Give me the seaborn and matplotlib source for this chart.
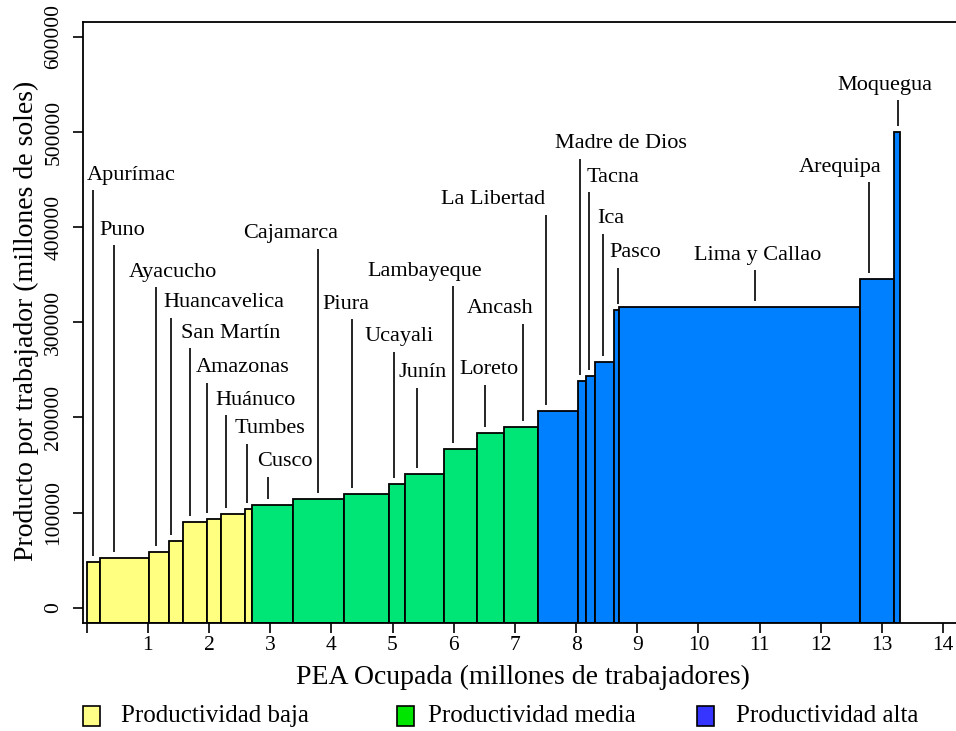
import numpy as np
import pandas as pd
import seaborn as sns
import matplotlib.pyplot as plt
from matplotlib.patches import Rectangle

# Regiones ordenadas por productividad
regiones = ["Apurímac", "Puno", "Ayacucho", "Huancavelica", "San Martín", "Amazonas",
            "Huánuco", "Tumbes", "Cusco", "Cajamarca", "Piura", "Ucayali", "Junín",
            "Lambayeque", "Loreto", "Ancash", "La Libertad", "Madre de Dios", "Tacna",
            "Ica", "Pasco", "Lima y Callao", "Arequipa", "Moquegua"]

# PEA ocupada (millones de trabajadores) = ancho de cada barra
pea = [0.217, 0.807, 0.327, 0.219, 0.392, 0.229, 0.397, 0.120, 0.660, 0.839,
       0.741, 0.251, 0.648, 0.539, 0.437, 0.551, 0.659, 0.126, 0.147, 0.316,
       0.086, 3.936, 0.556, 0.098]

# Producto por trabajador = alto de cada barra
producto = [47700, 51900, 58500, 70100, 90000, 93500, 98400, 103700, 108200, 113900,
            119700, 129900, 140100, 166400, 183800, 189800, 206300, 238100, 244100, 258100,
            312700, 315900, 346000, 500000]

grupo = ["baja"] * 8 + ["media"] * 8 + ["alta"] * 8

grupos = ["baja", "media", "alta"]
leyenda = ["Productividad baja", "Productividad media", "Productividad alta"]

x_ticks = list(range(0, 15))
x_ticklabels = [""] + [str(i) for i in range(1, 15)]
y_ticks = [0, 100000, 200000, 300000, 400000, 500000, 600000]

# Posicion de las etiquetas (x, y) y de la linea guia (x), en unidades de datos
etiqueta_x = [0.736, 0.585, 1.403, 2.245, 2.359, 2.547, 2.760, 2.997, 3.242, 3.335,
              4.231, 5.106, 5.494, 5.531, 6.570, 6.753, 6.635, 8.725, 8.605, 8.570,
              8.968, 10.963, 12.320, 13.043]
etiqueta_y = [454500, 396700, 352900, 320400, 288600, 252500, 218200, 188400, 153400, 393300,
              319000, 284700, 246800, 353700, 250400, 314500, 428800, 487800, 452700, 409000,
              372900, 370500, 463200, 549000]
linea_x = [0.108, 0.446, 1.128, 1.378, 1.689, 1.972, 2.278, 2.616, 2.969, 3.774,
           4.338, 5.020, 5.396, 5.984, 6.513, 7.139, 7.510, 8.066, 8.218, 8.437,
           8.692, 10.927, 12.796, 13.260]

colores_barra = {"baja": "#FFFF80", "media": "#00E676", "alta": "#0080FF"}
colores_leyenda = {"baja": "#FFFF88", "media": "#00E600", "alta": "#3535FF"}

df = pd.DataFrame({"region": regiones, "pea": pea, "producto": producto, "grupo": grupo})
df["inicio"] = df["pea"].cumsum() - df["pea"]

sns.set_theme(style="ticks")
plt.rcParams["font.family"] = ["Liberation Serif", "DejaVu Serif"]

fig = plt.figure(figsize=(9.56, 7.31), dpi=100)
W, H = 956, 731
ax_left, ax_top, ax_bottom = 82.7, 21.7, 623.0
ax = fig.add_axes([ax_left / W, (H - ax_bottom) / H, (W - ax_left) / W, (ax_bottom - ax_top) / H])

y_min, y_max = -16000, 616000
ax.set_xlim(-0.065, 14.21)
ax.set_ylim(y_min, y_max)
por_px = (y_max - y_min) / (ax_bottom - ax_top)

ax.bar(df["inicio"], df["producto"] - y_min, width=df["pea"], bottom=y_min, align="edge",
       color=[colores_barra[g] for g in df["grupo"]], edgecolor="black", linewidth=1.3,
       zorder=2)

for i, fila in df.iterrows():
    ax.text(etiqueta_x[i], etiqueta_y[i], fila["region"], ha="center", va="center",
            fontsize=16, color="black", zorder=3)
    ax.vlines(linea_x[i], fila["producto"] + 6 * por_px, etiqueta_y[i] - 15 * por_px,
              color="black", linewidth=1.2, zorder=3)

ax.set_xticks(x_ticks)
ax.set_xticklabels(x_ticklabels)
ax.set_yticks(y_ticks)
ax.set_yticklabels([str(v) for v in y_ticks], rotation=90, va="center")
ax.tick_params(axis="both", direction="out", length=7, width=1.2, color="black",
               labelsize=15.5, labelcolor="black")
ax.tick_params(axis="x", pad=2)
ax.tick_params(axis="y", pad=7)

for lado in ["left", "bottom", "top"]:
    ax.spines[lado].set_color("black")
    ax.spines[lado].set_linewidth(1.3)
ax.spines["right"].set_visible(False)

ax.set_xlabel("PEA Ocupada (millones de trabajadores)", fontsize=20, color="black")
ax.xaxis.set_label_coords(0.5036, -0.0898)
ax.xaxis.label.set_va("center")
ax.set_ylabel("Producto por trabajador (millones de soles)", fontsize=20, color="black")
ax.yaxis.set_label_coords(-0.0650, 0.502)
ax.yaxis.label.set_va("center")

# Leyenda horizontal bajo el grafico
parche_x = [83, 397, 697]
texto_x = [121, 428, 736]
ley_y = 716
for g, etiqueta, px, tx in zip(grupos, leyenda, parche_x, texto_x):
    fig.add_artist(Rectangle((px / W, (H - ley_y - 10) / H), 17 / W, 20 / H,
                             transform=fig.transFigure, facecolor=colores_leyenda[g],
                             edgecolor="black", linewidth=1.2))
    fig.text(tx / W, (H - ley_y) / H, etiqueta, ha="left", va="center", fontsize=18,
             color="black")

fig.savefig("out.png", dpi=100)
